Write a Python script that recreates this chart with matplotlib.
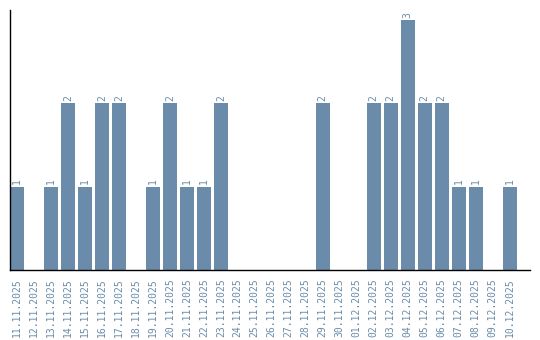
import matplotlib.pyplot as plt

dates = ['11.11.2025', '12.11.2025', '13.11.2025', '14.11.2025', '15.11.2025',
         '16.11.2025', '17.11.2025', '18.11.2025', '19.11.2025', '20.11.2025',
         '21.11.2025', '22.11.2025', '23.11.2025', '24.11.2025', '25.11.2025',
         '26.11.2025', '27.11.2025', '28.11.2025', '29.11.2025', '30.11.2025',
         '01.12.2025', '02.12.2025', '03.12.2025', '04.12.2025', '05.12.2025',
         '06.12.2025', '07.12.2025', '08.12.2025', '09.12.2025', '10.12.2025']
counts = [1, 0, 1, 2, 1, 2, 2, 0, 1, 2, 1, 1, 2, 0, 0,
          0, 0, 0, 2, 0, 0, 2, 2, 3, 2, 2, 1, 1, 0, 1]

cor = '#6a8caa'

fig = plt.figure(figsize=(5.4, 3.4), dpi=100)
ax = fig.add_axes([10/540, 70/340, 520/540, 260/340])

x = list(range(len(dates)))
ax.bar(x, counts, width=0.82, color=cor)

for i, v in enumerate(counts):
    if v > 0:
        ax.text(i, v + 0.03, str(v), rotation=90, ha='center', va='bottom',
                color=cor, fontsize=7, family='DejaVu Sans Mono')

ax.set_xlim(-0.41, 30.2)
ax.set_ylim(0, 3.12)
ax.set_xticks(x)
ax.set_xticklabels(dates, rotation=90, color=cor, fontsize=7, family='DejaVu Sans Mono')
ax.tick_params(axis='x', length=0, pad=6)
ax.set_yticks([])
ax.spines['top'].set_visible(False)
ax.spines['right'].set_visible(False)
ax.spines['left'].set_linewidth(1)
ax.spines['bottom'].set_linewidth(1)

fig.savefig('out.png', dpi=100)
